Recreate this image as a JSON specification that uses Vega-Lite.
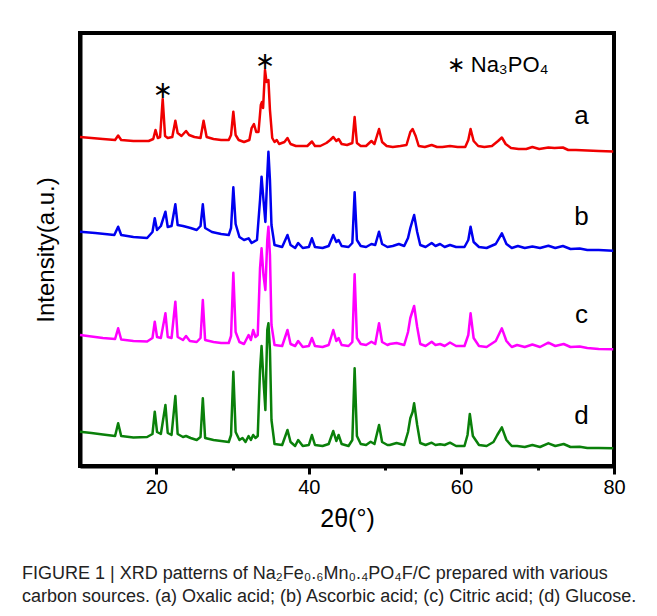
{
 "$schema": "https://vega.github.io/schema/vega-lite/v6.json",
 "width": 534,
 "height": 433,
 "autosize": {"type": "none"},
 "padding": {"left": 80, "top": 33, "right": 43, "bottom": 150},
 "background": "white",
 "config": {"view": {"stroke": "black", "strokeWidth": 4}, "font": "Liberation Sans"},
 "title": {
  "text": ["FIGURE 1 | XRD patterns of Na₂Fe₀.₆Mn₀.₄PO₄F/C prepared with various", "carbon sources. (a) Oxalic acid; (b) Ascorbic acid; (c) Citric acid; (d) Glucose."],
  "orient": "bottom", "anchor": "start", "frame": "group", "dx": -58, "offset": 34,
  "fontSize": 18, "fontWeight": "normal", "color": "#222222", "lineHeight": 23, "font": "Liberation Sans"
 },
 "datasets": {
  "xrd": [
   {"s":"a","x":10.0,"y":329},{"s":"a","x":11.5,"y":328},{"s":"a","x":13,"y":327},{"s":"a","x":14.6,"y":326},{"s":"a","x":15.0,"y":330.5},{"s":"a","x":15.4,"y":326},{"s":"a","x":17,"y":325},{"s":"a","x":19,"y":325},{"s":"a","x":19.6,"y":327},{"s":"a","x":19.9,"y":336},{"s":"a","x":20.2,"y":328},{"s":"a","x":20.5,"y":329},{"s":"a","x":20.84,"y":367},{"s":"a","x":21.15,"y":330},{"s":"a","x":21.5,"y":328},{"s":"a","x":22.1,"y":329},{"s":"a","x":22.5,"y":345.3},{"s":"a","x":22.8,"y":333},{"s":"a","x":23.3,"y":330},{"s":"a","x":23.9,"y":335},{"s":"a","x":24.3,"y":331},{"s":"a","x":25.0,"y":329},{"s":"a","x":25.8,"y":328},{"s":"a","x":26.2,"y":345.3},{"s":"a","x":26.6,"y":329},{"s":"a","x":27.5,"y":327},{"s":"a","x":28.5,"y":326},{"s":"a","x":29.5,"y":326},{"s":"a","x":29.8,"y":331},{"s":"a","x":30.1,"y":354.3},{"s":"a","x":30.4,"y":331},{"s":"a","x":30.8,"y":326},{"s":"a","x":31.5,"y":324},{"s":"a","x":32.2,"y":326},{"s":"a","x":32.5,"y":338},{"s":"a","x":32.8,"y":342},{"s":"a","x":33.1,"y":334},{"s":"a","x":33.4,"y":334},{"s":"a","x":33.7,"y":361},{"s":"a","x":33.85,"y":364},{"s":"a","x":34.0,"y":358},{"s":"a","x":34.25,"y":396},{"s":"a","x":34.45,"y":384},{"s":"a","x":34.7,"y":386},{"s":"a","x":34.9,"y":356},{"s":"a","x":35.2,"y":328},{"s":"a","x":35.5,"y":324},{"s":"a","x":35.8,"y":326},{"s":"a","x":36.1,"y":322},{"s":"a","x":36.8,"y":324},{"s":"a","x":37.2,"y":328},{"s":"a","x":37.6,"y":322},{"s":"a","x":38.3,"y":320},{"s":"a","x":39.0,"y":320},{"s":"a","x":39.8,"y":320},{"s":"a","x":40.4,"y":324.5},{"s":"a","x":40.8,"y":320},{"s":"a","x":41.5,"y":320},{"s":"a","x":42.3,"y":323},{"s":"a","x":42.8,"y":326},{"s":"a","x":43.2,"y":329},{"s":"a","x":43.6,"y":325},{"s":"a","x":43.9,"y":327},{"s":"a","x":44.3,"y":322},{"s":"a","x":45.0,"y":321},{"s":"a","x":45.7,"y":323},{"s":"a","x":46.0,"y":349},{"s":"a","x":46.3,"y":323},{"s":"a","x":46.8,"y":320},{"s":"a","x":47.5,"y":320},{"s":"a","x":48.2,"y":325},{"s":"a","x":48.6,"y":322},{"s":"a","x":49.2,"y":337},{"s":"a","x":49.6,"y":324},{"s":"a","x":50.2,"y":320},{"s":"a","x":51.0,"y":319},{"s":"a","x":52.0,"y":320},{"s":"a","x":52.8,"y":321},{"s":"a","x":53.3,"y":334},{"s":"a","x":53.6,"y":337},{"s":"a","x":54.0,"y":330},{"s":"a","x":54.4,"y":320},{"s":"a","x":55.2,"y":319},{"s":"a","x":56.1,"y":321},{"s":"a","x":56.8,"y":319},{"s":"a","x":57.5,"y":319},{"s":"a","x":58.5,"y":320},{"s":"a","x":59.5,"y":319},{"s":"a","x":60.5,"y":319},{"s":"a","x":60.9,"y":326},{"s":"a","x":61.2,"y":337},{"s":"a","x":61.6,"y":325},{"s":"a","x":62.2,"y":320},{"s":"a","x":63.0,"y":319},{"s":"a","x":64.0,"y":320},{"s":"a","x":64.8,"y":325},{"s":"a","x":65.3,"y":328.5},{"s":"a","x":65.8,"y":322},{"s":"a","x":66.5,"y":318},{"s":"a","x":67.5,"y":317},{"s":"a","x":68.5,"y":317},{"s":"a","x":69.3,"y":319},{"s":"a","x":70.2,"y":317},{"s":"a","x":71.4,"y":318.5},{"s":"a","x":72.2,"y":318},{"s":"a","x":73.3,"y":318.5},{"s":"a","x":74.0,"y":316},{"s":"a","x":75.0,"y":316},{"s":"a","x":76.5,"y":315.5},{"s":"a","x":78.0,"y":315},{"s":"a","x":79.9,"y":314.5},
   {"s":"b","x":10.0,"y":234.3},{"s":"b","x":12,"y":233},{"s":"b","x":14.5,"y":231},{"s":"b","x":15.0,"y":239.3},{"s":"b","x":15.4,"y":231},{"s":"b","x":17,"y":229},{"s":"b","x":18.8,"y":228},{"s":"b","x":19.5,"y":234},{"s":"b","x":19.8,"y":247.7},{"s":"b","x":20.1,"y":236},{"s":"b","x":20.6,"y":240},{"s":"b","x":21.2,"y":254.3},{"s":"b","x":21.5,"y":239},{"s":"b","x":22.0,"y":240},{"s":"b","x":22.5,"y":261.7},{"s":"b","x":22.8,"y":241},{"s":"b","x":23.5,"y":240},{"s":"b","x":24.5,"y":238},{"s":"b","x":25.3,"y":236},{"s":"b","x":25.8,"y":240},{"s":"b","x":26.1,"y":261.7},{"s":"b","x":26.4,"y":238},{"s":"b","x":27.3,"y":234},{"s":"b","x":28.5,"y":232},{"s":"b","x":29.5,"y":231},{"s":"b","x":29.8,"y":238},{"s":"b","x":30.1,"y":278.7},{"s":"b","x":30.4,"y":242},{"s":"b","x":30.9,"y":229},{"s":"b","x":31.5,"y":226},{"s":"b","x":32.1,"y":227.7},{"s":"b","x":32.5,"y":223},{"s":"b","x":33.2,"y":226},{"s":"b","x":33.6,"y":266},{"s":"b","x":33.8,"y":289.3},{"s":"b","x":34.05,"y":266},{"s":"b","x":34.3,"y":244},{"s":"b","x":34.55,"y":291},{"s":"b","x":34.7,"y":314.3},{"s":"b","x":34.9,"y":286},{"s":"b","x":35.1,"y":241},{"s":"b","x":35.5,"y":221},{"s":"b","x":36.5,"y":219},{"s":"b","x":37.2,"y":231},{"s":"b","x":37.6,"y":221},{"s":"b","x":38.2,"y":218},{"s":"b","x":38.6,"y":223},{"s":"b","x":39.2,"y":218},{"s":"b","x":40.0,"y":219},{"s":"b","x":40.4,"y":227.7},{"s":"b","x":40.8,"y":219},{"s":"b","x":41.8,"y":218},{"s":"b","x":42.6,"y":220},{"s":"b","x":43.2,"y":231},{"s":"b","x":43.6,"y":224},{"s":"b","x":43.9,"y":226},{"s":"b","x":44.3,"y":220},{"s":"b","x":45.2,"y":219},{"s":"b","x":45.7,"y":223},{"s":"b","x":46.0,"y":273.7},{"s":"b","x":46.3,"y":226},{"s":"b","x":46.8,"y":220},{"s":"b","x":47.5,"y":219},{"s":"b","x":48.2,"y":222},{"s":"b","x":48.7,"y":221},{"s":"b","x":49.2,"y":234.3},{"s":"b","x":49.6,"y":222},{"s":"b","x":50.3,"y":219},{"s":"b","x":51.0,"y":220},{"s":"b","x":51.8,"y":222},{"s":"b","x":52.5,"y":220},{"s":"b","x":53.0,"y":228},{"s":"b","x":53.3,"y":238},{"s":"b","x":53.8,"y":251},{"s":"b","x":54.2,"y":234},{"s":"b","x":54.6,"y":221},{"s":"b","x":55.3,"y":219},{"s":"b","x":56.1,"y":223},{"s":"b","x":56.6,"y":220},{"s":"b","x":57.2,"y":222},{"s":"b","x":57.8,"y":219},{"s":"b","x":58.5,"y":221},{"s":"b","x":59.3,"y":219},{"s":"b","x":60.4,"y":219},{"s":"b","x":60.9,"y":226},{"s":"b","x":61.2,"y":239.3},{"s":"b","x":61.6,"y":224},{"s":"b","x":62.3,"y":219},{"s":"b","x":63.3,"y":218},{"s":"b","x":64.5,"y":222},{"s":"b","x":65.3,"y":232.7},{"s":"b","x":65.9,"y":222},{"s":"b","x":66.6,"y":218},{"s":"b","x":67.4,"y":220},{"s":"b","x":68.3,"y":218},{"s":"b","x":69.3,"y":219.5},{"s":"b","x":70.3,"y":218},{"s":"b","x":71.4,"y":220.3},{"s":"b","x":72.3,"y":218},{"s":"b","x":73.3,"y":220},{"s":"b","x":74.3,"y":217},{"s":"b","x":75.5,"y":217.5},{"s":"b","x":76.5,"y":216},{"s":"b","x":78.0,"y":216},{"s":"b","x":79.9,"y":215.3},
   {"s":"c","x":10.0,"y":131},{"s":"c","x":11.5,"y":129.5},{"s":"c","x":13,"y":128},{"s":"c","x":14.6,"y":127},{"s":"c","x":15.0,"y":137.7},{"s":"c","x":15.4,"y":126.5},{"s":"c","x":17,"y":125},{"s":"c","x":18.8,"y":124.5},{"s":"c","x":19.5,"y":128},{"s":"c","x":19.8,"y":144.3},{"s":"c","x":20.1,"y":129},{"s":"c","x":20.6,"y":128},{"s":"c","x":21.2,"y":152.7},{"s":"c","x":21.5,"y":129},{"s":"c","x":22.0,"y":128},{"s":"c","x":22.5,"y":164.3},{"s":"c","x":22.8,"y":129},{"s":"c","x":23.5,"y":126},{"s":"c","x":23.9,"y":130},{"s":"c","x":24.4,"y":125},{"s":"c","x":25.3,"y":124},{"s":"c","x":25.8,"y":128},{"s":"c","x":26.1,"y":166},{"s":"c","x":26.4,"y":126},{"s":"c","x":27.5,"y":124},{"s":"c","x":28.5,"y":123},{"s":"c","x":29.5,"y":123},{"s":"c","x":29.8,"y":130},{"s":"c","x":30.1,"y":193.3},{"s":"c","x":30.4,"y":134},{"s":"c","x":30.9,"y":124},{"s":"c","x":31.5,"y":122},{"s":"c","x":32.1,"y":131},{"s":"c","x":32.4,"y":126},{"s":"c","x":32.7,"y":136},{"s":"c","x":33.0,"y":129},{"s":"c","x":33.3,"y":131},{"s":"c","x":33.6,"y":198},{"s":"c","x":33.8,"y":217.7},{"s":"c","x":34.05,"y":191},{"s":"c","x":34.3,"y":176},{"s":"c","x":34.55,"y":226},{"s":"c","x":34.7,"y":239.3},{"s":"c","x":34.9,"y":211},{"s":"c","x":35.1,"y":141},{"s":"c","x":35.5,"y":121},{"s":"c","x":36.5,"y":120},{"s":"c","x":37.2,"y":136},{"s":"c","x":37.6,"y":122},{"s":"c","x":38.2,"y":120},{"s":"c","x":38.6,"y":125},{"s":"c","x":39.2,"y":119},{"s":"c","x":40.0,"y":120},{"s":"c","x":40.4,"y":128},{"s":"c","x":40.8,"y":120},{"s":"c","x":41.8,"y":119},{"s":"c","x":42.6,"y":121},{"s":"c","x":43.2,"y":136},{"s":"c","x":43.6,"y":125},{"s":"c","x":43.9,"y":128},{"s":"c","x":44.3,"y":121},{"s":"c","x":45.2,"y":120},{"s":"c","x":45.7,"y":124},{"s":"c","x":46.0,"y":191.7},{"s":"c","x":46.3,"y":128},{"s":"c","x":46.8,"y":122},{"s":"c","x":47.5,"y":121},{"s":"c","x":48.2,"y":124.3},{"s":"c","x":48.7,"y":122},{"s":"c","x":49.2,"y":142.7},{"s":"c","x":49.6,"y":124},{"s":"c","x":50.3,"y":121},{"s":"c","x":50.6,"y":122},{"s":"c","x":51.5,"y":123},{"s":"c","x":52.5,"y":121},{"s":"c","x":53.0,"y":134},{"s":"c","x":53.3,"y":148},{"s":"c","x":53.8,"y":160},{"s":"c","x":54.2,"y":139},{"s":"c","x":54.6,"y":122},{"s":"c","x":55.3,"y":120},{"s":"c","x":56.1,"y":124.3},{"s":"c","x":56.6,"y":121},{"s":"c","x":57.2,"y":122},{"s":"c","x":57.8,"y":120},{"s":"c","x":58.5,"y":123.5},{"s":"c","x":59.3,"y":120},{"s":"c","x":60.4,"y":120},{"s":"c","x":60.9,"y":131},{"s":"c","x":61.2,"y":152.7},{"s":"c","x":61.6,"y":128},{"s":"c","x":62.3,"y":120},{"s":"c","x":63.3,"y":119},{"s":"c","x":64.5,"y":125},{"s":"c","x":65.3,"y":137.7},{"s":"c","x":65.9,"y":125},{"s":"c","x":66.6,"y":119},{"s":"c","x":67.3,"y":121},{"s":"c","x":68.3,"y":119},{"s":"c","x":69.3,"y":121.5},{"s":"c","x":70.3,"y":119},{"s":"c","x":71.4,"y":123.3},{"s":"c","x":72.3,"y":120},{"s":"c","x":73.4,"y":122},{"s":"c","x":74.3,"y":119},{"s":"c","x":75.5,"y":119.5},{"s":"c","x":76.5,"y":118},{"s":"c","x":78.0,"y":117},{"s":"c","x":79.9,"y":116.7},
   {"s":"d","x":10.0,"y":34.3},{"s":"d","x":11.5,"y":33},{"s":"d","x":13,"y":31.5},{"s":"d","x":14.6,"y":30},{"s":"d","x":15.0,"y":42.7},{"s":"d","x":15.4,"y":30},{"s":"d","x":17,"y":28.5},{"s":"d","x":18.8,"y":29},{"s":"d","x":19.5,"y":32},{"s":"d","x":19.8,"y":54.3},{"s":"d","x":20.1,"y":34},{"s":"d","x":20.6,"y":32},{"s":"d","x":21.2,"y":61},{"s":"d","x":21.5,"y":33},{"s":"d","x":22.0,"y":31},{"s":"d","x":22.5,"y":70},{"s":"d","x":22.8,"y":32},{"s":"d","x":23.5,"y":29},{"s":"d","x":23.9,"y":30},{"s":"d","x":24.5,"y":28},{"s":"d","x":25.3,"y":26},{"s":"d","x":25.8,"y":29},{"s":"d","x":26.1,"y":67.7},{"s":"d","x":26.4,"y":28},{"s":"d","x":27.5,"y":26},{"s":"d","x":28.5,"y":25},{"s":"d","x":29.5,"y":24},{"s":"d","x":29.8,"y":31},{"s":"d","x":30.1,"y":94.3},{"s":"d","x":30.4,"y":34},{"s":"d","x":30.9,"y":26},{"s":"d","x":31.3,"y":28},{"s":"d","x":31.7,"y":24},{"s":"d","x":32.1,"y":30},{"s":"d","x":32.4,"y":26},{"s":"d","x":32.7,"y":31},{"s":"d","x":33.0,"y":28},{"s":"d","x":33.3,"y":30},{"s":"d","x":33.6,"y":96},{"s":"d","x":33.8,"y":120},{"s":"d","x":34.05,"y":86},{"s":"d","x":34.3,"y":56},{"s":"d","x":34.55,"y":136},{"s":"d","x":34.7,"y":142.7},{"s":"d","x":34.9,"y":116},{"s":"d","x":35.1,"y":46},{"s":"d","x":35.5,"y":22},{"s":"d","x":36.5,"y":21},{"s":"d","x":37.2,"y":36},{"s":"d","x":37.6,"y":24},{"s":"d","x":38.2,"y":20},{"s":"d","x":38.6,"y":26},{"s":"d","x":39.2,"y":20},{"s":"d","x":40.0,"y":21},{"s":"d","x":40.4,"y":31},{"s":"d","x":40.8,"y":21},{"s":"d","x":41.8,"y":20},{"s":"d","x":42.6,"y":22},{"s":"d","x":43.2,"y":35},{"s":"d","x":43.6,"y":25},{"s":"d","x":43.9,"y":31},{"s":"d","x":44.3,"y":22},{"s":"d","x":45.2,"y":20},{"s":"d","x":45.7,"y":26},{"s":"d","x":46.0,"y":97.7},{"s":"d","x":46.3,"y":30},{"s":"d","x":46.8,"y":22},{"s":"d","x":47.5,"y":21},{"s":"d","x":48.1,"y":24.3},{"s":"d","x":48.6,"y":22},{"s":"d","x":49.2,"y":41},{"s":"d","x":49.6,"y":24},{"s":"d","x":50.3,"y":21},{"s":"d","x":50.6,"y":21},{"s":"d","x":51.5,"y":23},{"s":"d","x":52.5,"y":21},{"s":"d","x":53.0,"y":34},{"s":"d","x":53.3,"y":47.7},{"s":"d","x":53.6,"y":54},{"s":"d","x":53.8,"y":62.7},{"s":"d","x":54.2,"y":41},{"s":"d","x":54.6,"y":23},{"s":"d","x":55.3,"y":21},{"s":"d","x":56.1,"y":23.3},{"s":"d","x":56.6,"y":21},{"s":"d","x":57.2,"y":21.7},{"s":"d","x":57.8,"y":21},{"s":"d","x":58.5,"y":23.3},{"s":"d","x":59.3,"y":20},{"s":"d","x":60.4,"y":20},{"s":"d","x":60.8,"y":31},{"s":"d","x":61.1,"y":52},{"s":"d","x":61.5,"y":30},{"s":"d","x":62.3,"y":21},{"s":"d","x":63.3,"y":20},{"s":"d","x":64.2,"y":24},{"s":"d","x":64.7,"y":31},{"s":"d","x":65.3,"y":38.7},{"s":"d","x":65.9,"y":26},{"s":"d","x":66.6,"y":20},{"s":"d","x":67.3,"y":20},{"s":"d","x":68.3,"y":19},{"s":"d","x":69.3,"y":21},{"s":"d","x":70.3,"y":19},{"s":"d","x":71.4,"y":22.7},{"s":"d","x":72.3,"y":20},{"s":"d","x":73.4,"y":22},{"s":"d","x":74.3,"y":19},{"s":"d","x":75.5,"y":19.3},{"s":"d","x":76.5,"y":18},{"s":"d","x":78.0,"y":18},{"s":"d","x":79.9,"y":17.7}
  ],
  "labels": [
   {"t":"a","x":75.75,"y":342},
   {"t":"b","x":75.75,"y":241},
   {"t":"c","x":75.75,"y":142.7},
   {"t":"d","x":75.75,"y":42}
  ],
  "stars": [
   {"t":"∗","x":20.84,"y":375.3},
   {"t":"∗","x":34.25,"y":404.3}
  ],
  "note": [
   {"t":"∗ Na₃PO₄","x":58.06,"y":394.3}
  ]
 },
 "encoding": {
  "x": {
   "field": "x", "type": "quantitative",
   "scale": {"domain": [10, 80], "nice": false, "zero": false},
   "axis": {
    "values": [20, 30, 40, 50, 60, 70, 80],
    "labelExpr": "datum.value % 20 === 0 ? datum.label : ''",
    "labelFlush": false,
    "tickSize": {"condition": {"test": "datum.value % 20 === 0", "value": 8}, "value": 4},
    "tickWidth": 3, "tickColor": "black",
    "domainColor": "black", "domainWidth": 4,
    "labelFontSize": 20, "labelColor": "black", "labelPadding": 3, "labelFont": "Liberation Sans",
    "title": "2θ(°)", "titleFontSize": 25, "titleFontWeight": "normal", "titleColor": "black", "titlePadding": 9, "titleFont": "Liberation Sans",
    "grid": false
   }
  },
  "y": {
   "field": "y", "type": "quantitative",
   "scale": {"domain": [0, 433], "nice": false, "zero": false},
   "axis": {
    "ticks": false, "labels": false, "grid": false,
    "domainColor": "black", "domainWidth": 4,
    "title": "Intensity(a.u.)", "titleFontSize": 24, "titleFontWeight": "normal", "titleColor": "black", "titlePadding": 22, "titleFont": "Liberation Sans"
   }
  }
 },
 "layer": [
  {
   "data": {"name": "xrd"},
   "mark": {"type": "line", "strokeWidth": 2.5, "strokeJoin": "round"},
   "encoding": {
    "color": {"field": "s", "type": "nominal", "scale": {"domain": ["a", "b", "c", "d"], "range": ["#f00000", "#0000f0", "#ff00ff", "#0a800a"]}, "legend": null}
   }
  },
  {
   "data": {"name": "labels"},
   "mark": {"type": "text", "fontSize": 26, "align": "center", "baseline": "alphabetic", "color": "black", "font": "Liberation Sans"},
   "encoding": {"text": {"field": "t"}}
  },
  {
   "data": {"name": "stars"},
   "mark": {"type": "text", "fontSize": 24, "align": "center", "baseline": "middle", "color": "black", "font": "DejaVu Sans"},
   "encoding": {"text": {"field": "t"}}
  },
  {
   "data": {"name": "note"},
   "mark": {"type": "text", "fontSize": 22, "align": "left", "baseline": "alphabetic", "color": "black", "font": "Liberation Sans"},
   "encoding": {"text": {"field": "t"}}
  }
 ]
}
